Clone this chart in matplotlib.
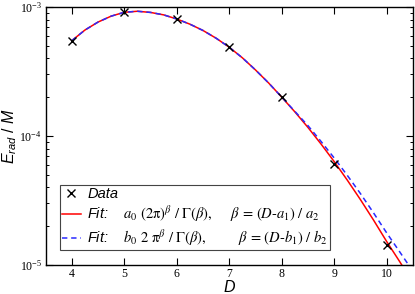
import numpy as np
import matplotlib
matplotlib.use("Agg")
import matplotlib.pyplot as plt
from matplotlib.font_manager import FontProperties
from matplotlib.ticker import LogLocator, NullFormatter

plt.rcParams['font.family'] = 'serif'
plt.rcParams['font.serif'] = ['Liberation Serif', 'DejaVu Serif']
plt.rcParams['mathtext.fontset'] = 'stix'
plt.rcParams['mathtext.it'] = 'Liberation Sans:italic'
plt.rcParams['mathtext.rm'] = 'Liberation Sans'
plt.rcParams['mathtext.bf'] = 'Liberation Sans:bold'

# Data
data_D = [4, 5, 6, 7, 8, 9, 10]
data_E = [5.48e-4, 9.09e-4, 8.07e-4, 4.87e-4, 2.00e-4, 6.07e-5, 1.43e-5]

# Fit curves, log10 values
fit_D = [4.0, 4.25, 4.5, 4.75, 5.0, 5.25, 5.5, 5.75, 6.0, 6.25, 6.5, 6.75, 7.0,
         7.25, 7.5, 7.75, 8.0, 8.25, 8.5, 8.75, 9.0, 9.25, 9.5, 9.75, 10.0, 10.25, 10.5]
fit_a_log = [-3.261, -3.179, -3.117, -3.071, -3.041, -3.033, -3.042, -3.061, -3.093,
             -3.133, -3.182, -3.242, -3.312, -3.394, -3.488, -3.589, -3.699,
             -3.813, -3.934, -4.063, -4.199, -4.343, -4.494, -4.653, -4.819, -4.976, -5.14]
fit_b_log = [-3.261, -3.179, -3.117, -3.071, -3.041, -3.033, -3.042, -3.061, -3.093,
             -3.133, -3.182, -3.242, -3.312, -3.394, -3.488, -3.589, -3.699,
             -3.809, -3.920, -4.043, -4.171, -4.306, -4.447, -4.597, -4.752, -4.900, -5.05]

W, H = 415, 294
fig = plt.figure(figsize=(W / 100, H / 100), dpi=100)
ax = fig.add_axes([45.5 / W, 1 - 265 / H, (413 - 45.5) / W, (265 - 7) / H])

ax.plot(fit_D, 10 ** np.array(fit_a_log), color='#ff0000', lw=1.1,
        label=r'Fit:    $a_0\ (2\mathrm{\pi})^{\beta}\ /\ \Gamma(\beta),\quad\ \ \beta\,=\,(D\text{-}a_1)\ /\ a_2$')
ax.plot(fit_D, 10 ** np.array(fit_b_log), color='#2a2aff', lw=1.1, ls=(0, (3.5, 2.5)),
        label=r'Fit:    $b_0\ 2\ \mathrm{\pi}^{\beta}\ /\ \Gamma(\beta),\qquad\ \ \ \beta\,=\,(D\text{-}b_1)\ /\ b_2$')
ax.plot(data_D, data_E, ls='none', marker='x', color='black', ms=5.5, mew=1.0,
        label='Data', zorder=5)

ax.set_yscale('log')
ax.set_xlim(3.5, 10.5)
ax.set_ylim(1e-5, 1e-3)
ax.set_xticks([4, 5, 6, 7, 8, 9, 10])

ax.tick_params(which='both', direction='in', top=True, right=True, labelsize=8.5, pad=2.5)
ax.tick_params(which='major', length=5, width=0.8)
ax.tick_params(which='minor', length=2.5, width=0.7)
ax.yaxis.set_minor_locator(LogLocator(base=10, subs=np.arange(2, 10)))
ax.yaxis.set_minor_formatter(NullFormatter())
ax.tick_params(axis='x', which='minor', bottom=False, top=False)

for s in ax.spines.values():
    s.set_linewidth(1.0)

labfp = FontProperties(family='Liberation Sans', style='italic', size=11.5, math_fontfamily='custom')
ax.set_xlabel(r'$D$', fontproperties=labfp)
ax.xaxis.set_label_coords(0.5, -(279 - 265) / 258)
ax.set_ylabel(r'$E_{rad}\ /\ M$', fontproperties=labfp)
ax.yaxis.set_label_coords((19 - 45.5) / 367.5, 0.5)

legfp = FontProperties(family='Liberation Sans', style='italic', size=10.5, math_fontfamily='stix')
h, l = ax.get_legend_handles_labels()
order = [2, 0, 1]
leg = ax.legend([h[i] for i in order], [l[i] for i in order], prop=legfp,
                loc='lower left', bbox_to_anchor=(14.5 / 367.5, 15 / 258),
                fancybox=False, edgecolor='#444444', framealpha=1,
                handlelength=1.3, handletextpad=0.45, borderaxespad=0,
                labelspacing=0.2, borderpad=0.12)
leg.get_frame().set_linewidth(0.8)

fig.savefig('out.png', dpi=100)
